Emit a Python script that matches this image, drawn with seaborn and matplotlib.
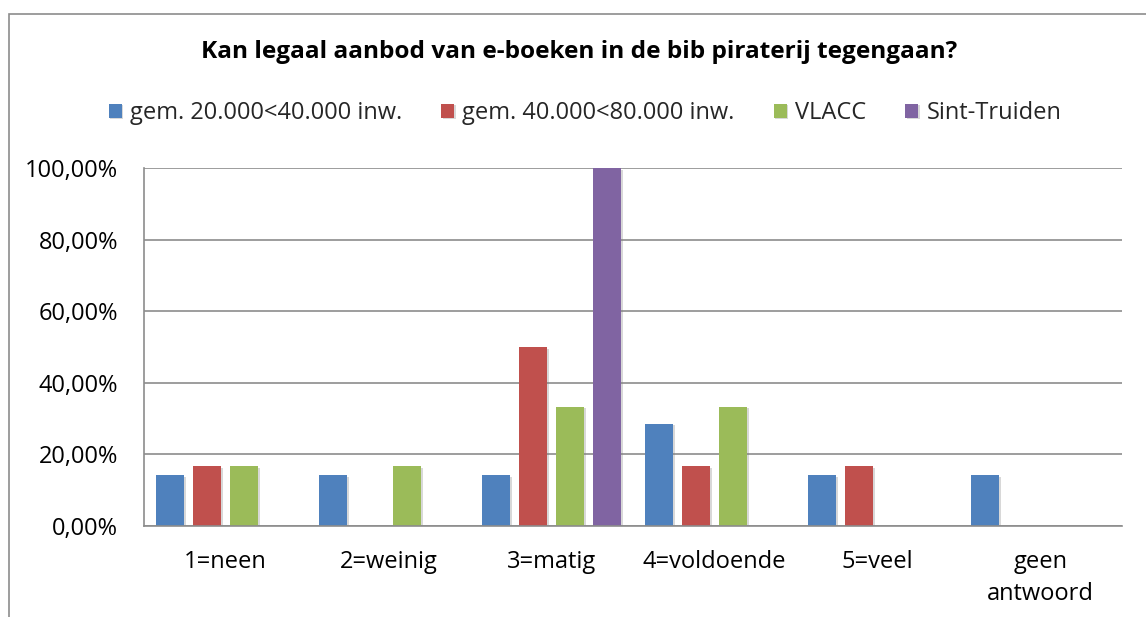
import matplotlib
matplotlib.use("Agg")
import matplotlib.pyplot as plt
import matplotlib.patheffects as pe
from matplotlib.patches import Rectangle
from matplotlib.ticker import FixedLocator, FuncFormatter
import pandas as pd
import seaborn as sns

categories = ["1=neen", "2=weinig", "3=matig", "4=voldoende", "5=veel", "geen antwoord"]
series_names = ["gem. 20.000<40.000 inw.", "gem. 40.000<80.000 inw.", "VLACC", "Sint-Truiden"]
gem_20_40 = [14.29, 14.29, 14.29, 28.57, 14.29, 14.29]
gem_40_80 = [16.67, 0.0, 50.00, 16.67, 16.67, 0.0]
vlacc = [16.67, 16.67, 33.33, 33.33, 0.0, 0.0]
sint_truiden = [0.0, 0.0, 100.00, 0.0, 0.0, 0.0]
colors = ["#4F81BD", "#C0504D", "#9BBB59", "#8064A2"]
title = "Kan legaal aanbod van e-boeken in de bib piraterij tegengaan?"

rows = []
for name, values in zip(series_names, [gem_20_40, gem_40_80, vlacc, sint_truiden]):
    for cat, v in zip(categories, values):
        rows.append({"categorie": cat, "reeks": name, "waarde": v})
df = pd.DataFrame(rows)

sns.set_theme(style="white")
plt.rcParams["font.family"] = ["Open Sans", "DejaVu Sans"]

W, H = 1146, 617
fig = plt.figure(figsize=(W / 100, H / 100), dpi=100)
ax = fig.add_axes([144 / W, 1 - 526 / H, (1122 - 144) / W, (526 - 168) / H])

sns.barplot(data=df, x="categorie", y="waarde", hue="reeks", order=categories,
            hue_order=series_names, palette=colors, width=0.908, gap=0.24,
            saturation=1, errorbar=None, ax=ax, legend=True)

for p in ax.patches:
    p.set_linewidth(0)
    p.set_path_effects([pe.SimplePatchShadow(offset=(1.2, -1.2), shadow_rgbFace="#7f7f7f", alpha=0.3),
                        pe.Normal()])

grid_c = "#8c8c8c"
fs = 17
ax.set_ylim(0, 100)
ax.set_xlim(-0.5, len(categories) - 0.5)
ax.yaxis.set_major_locator(FixedLocator([0, 20, 40, 60, 80, 100]))
ax.yaxis.set_major_formatter(FuncFormatter(lambda v, _: f"{v:.2f}%".replace(".", ",")))
ax.grid(axis="y", color=grid_c, linewidth=1.2)
ax.set_axisbelow(True)

# category boundaries carry the tick marks, centres carry the labels
ax.xaxis.set_major_locator(FixedLocator([i - 0.5 for i in range(len(categories) + 1)]))
ax.xaxis.set_major_formatter(FuncFormatter(lambda v, _: ""))
ax.xaxis.set_minor_locator(FixedLocator(list(range(len(categories)))))
ax.set_xticklabels([c.replace(" ", "\n") if c == "geen antwoord" else c for c in categories],
                   minor=True)
ax.tick_params(axis="x", which="major", length=8, width=1.2, color=grid_c, direction="out")
ax.tick_params(axis="x", which="minor", length=0, pad=17, labelsize=fs, labelcolor="black")
ax.tick_params(axis="y", length=0, pad=18.5, labelsize=fs, labelcolor="black")
for lbl in ax.get_xticklabels(minor=True):
    lbl.set_linespacing(1.45)

for side in ["top", "right"]:
    ax.spines[side].set_visible(False)
for side in ["left", "bottom"]:
    ax.spines[side].set_color(grid_c)
    ax.spines[side].set_linewidth(1.2)

ax.set_xlabel("")
ax.set_ylabel("")

handles, labels = ax.get_legend_handles_labels()
ax.get_legend().remove()
fig.legend(handles, labels, loc="center", bbox_to_anchor=(585 / W, 1 - 113 / H), ncol=4,
           frameon=False, fontsize=fs, handlelength=0.55, handleheight=0.55,
           handletextpad=0.35, columnspacing=1.65, borderaxespad=0)

fig.text(579 / W, 1 - 52 / H, title, ha="center", va="center", fontsize=17.6,
         fontweight="bold", color="black")

fig.patches.append(Rectangle((8.5 / W, -0.1), 1.2, (H - 13.5) / H + 0.1,
                             transform=fig.transFigure, fill=False, edgecolor="#8c8c8c",
                             linewidth=1.2, zorder=0))

fig.savefig("out.png", dpi=100)
